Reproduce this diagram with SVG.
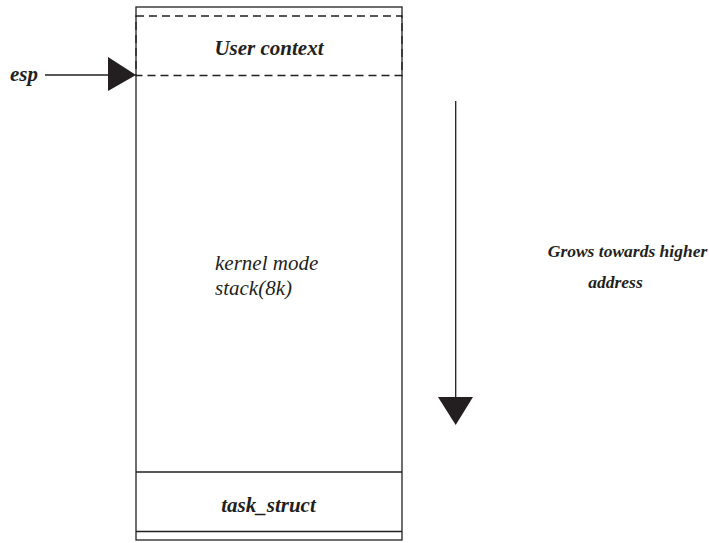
<svg xmlns="http://www.w3.org/2000/svg" width="709" height="543" viewBox="0 0 709 543">
<style>
.t{font-family:"Liberation Serif","Times New Roman",serif;font-style:italic;fill:#231f20;font-size:21px}
.b{font-weight:bold}
.s{font-size:17.5px}
.ln{stroke:#231f20;stroke-width:1.3;fill:none}
.dash{stroke:#231f20;stroke-width:1.3;fill:none;stroke-dasharray:8,5}
</style>
<rect width="709" height="543" fill="#fff"/>
<g id="stack">
<rect class="ln" x="136" y="7" width="266" height="533"/>
<line class="ln" x1="136" y1="472" x2="402" y2="472"/>
<line class="ln" x1="136" y1="531.5" x2="402" y2="531.5"/>
<text class="t" x="215" y="270">kernel mode</text>
<text class="t" x="215" y="295">stack(8k)</text>
</g>
<g id="user-context">
<rect class="dash" x="136" y="16" width="266" height="59.5"/>
<text class="t b" x="269" y="55" text-anchor="middle">User context</text>
</g>
<g id="task-struct">
<text class="t b" x="268.5" y="512" text-anchor="middle">task_struct</text>
</g>
<g id="esp-label">
<text class="t b" x="10" y="81">esp</text>
</g>
<g id="grows-label">
<text class="t b s" x="627.5" y="257" text-anchor="middle">Grows towards higher</text>
<text class="t b s" x="615.5" y="288" text-anchor="middle">address</text>
</g>
<g id="connectors">
<line class="ln" x1="45" y1="75" x2="110" y2="75"/>
<polygon points="108,57 136,75 108,91" fill="#231f20"/>
<line class="ln" x1="455.7" y1="101" x2="455.7" y2="398"/>
<polygon points="438,397 473,397 455.7,425" fill="#231f20"/>
</g>
</svg>
